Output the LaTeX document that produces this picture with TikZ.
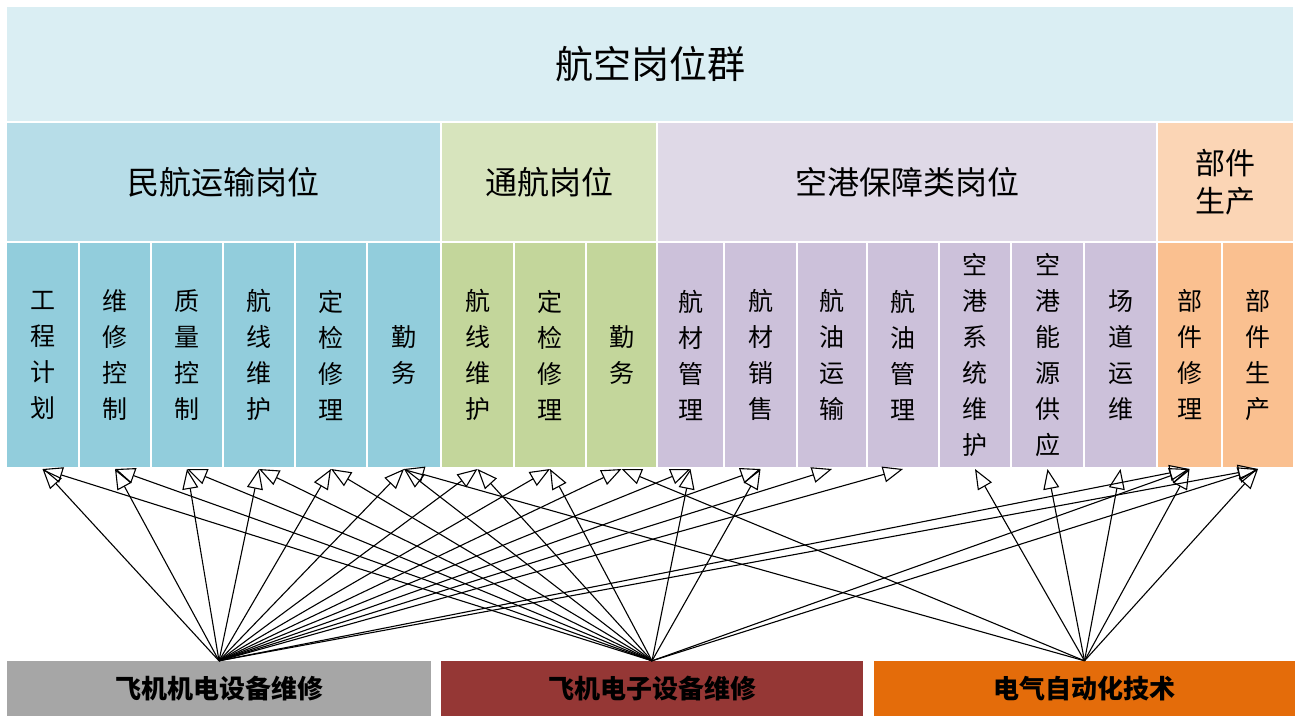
\documentclass[tikz,border=0pt]{standalone}
\usepackage{fontspec}
\setmainfont{Noto Sans CJK SC}
\usetikzlibrary{arrows.meta}
\definecolor{topc}{HTML}{DAEEF3}
\definecolor{civh}{HTML}{B7DDE8}
\definecolor{civc}{HTML}{92CDDC}
\definecolor{genh}{HTML}{D7E4BD}
\definecolor{genc}{HTML}{C3D69B}
\definecolor{apth}{HTML}{DFD9E7}
\definecolor{aptc}{HTML}{CCC1DA}
\definecolor{parh}{HTML}{FBD5B5}
\definecolor{parc}{HTML}{FAC090}
\definecolor{grayc}{HTML}{A6A6A6}
\definecolor{redc}{HTML}{953735}
\definecolor{orac}{HTML}{E46C0A}
\begin{document}
\begin{tikzpicture}[x=1pt,y=-1pt,
  box/.style={draw=white,line width=2pt,inner sep=0pt,align=center,text=black},
  cellbox/.style={box,minimum height=226pt,font=\fontsize{25}{36}\selectfont},
  headbox/.style={box,minimum height=120pt,font=\fontsize{32}{40}\selectfont},
  srcbox/.style={draw=none,inner sep=0pt,minimum height=55pt,align=center,text=black,font=\fontsize{26}{30}\selectfont\bfseries},
  edge/.style={draw=black,line width=1.1pt,-{Triangle[open,length=20pt,width=16pt,line width=1.1pt]}}
]
\useasboundingbox[fill=white] (0,0) rectangle (1295,716);
% top
\node[box,fill=topc,minimum width=1288pt,minimum height=116pt,font=\fontsize{38}{44}\selectfont] (top) at (650,64) {航空岗位群};
% headers
\node[headbox,fill=civh,minimum width=435pt] (h1) at (223.5,182) {民航运输岗位};
\node[headbox,fill=genh,minimum width=216pt] (h2) at (549,182) {通航岗位};
\node[headbox,fill=apth,minimum width=500pt] (h3) at (907,182) {空港保障类岗位};
\node[headbox,fill=parh,minimum width=137pt,font=\fontsize{30}{38}\selectfont] (h4) at (1225.5,182) {部件\\生产};
% cells
\node[cellbox,fill=civc,minimum width=73pt] (c1) at (42.5,355) {工\\程\\计\\划};
\node[cellbox,fill=civc,minimum width=72pt] (c2) at (115,355) {维\\修\\控\\制};
\node[cellbox,fill=civc,minimum width=72pt] (c3) at (187,355) {质\\量\\控\\制};
\node[cellbox,fill=civc,minimum width=72pt] (c4) at (259,355) {航\\线\\维\\护};
\node[cellbox,fill=civc,minimum width=72pt] (c5) at (331,355) {定\\检\\修\\理};
\node[cellbox,fill=civc,minimum width=74pt] (c6) at (404,355) {勤\\务};
\node[cellbox,fill=genc,minimum width=73pt] (t1) at (477.5,355) {航\\线\\维\\护};
\node[cellbox,fill=genc,minimum width=72pt] (t2) at (550,355) {定\\检\\修\\理};
\node[cellbox,fill=genc,minimum width=71pt] (t3) at (621.5,355) {勤\\务};
\node[cellbox,fill=aptc,minimum width=67pt] (k1) at (690.5,355) {航\\材\\管\\理};
\node[cellbox,fill=aptc,minimum width=73pt] (k2) at (760.5,355) {航\\材\\销\\售};
\node[cellbox,fill=aptc,minimum width=70pt] (k3) at (832,355) {航\\油\\运\\输};
\node[cellbox,fill=aptc,minimum width=72pt] (k4) at (903,355) {航\\油\\管\\理};
\node[cellbox,fill=aptc,minimum width=72pt] (k5) at (975,355) {空\\港\\系\\统\\维\\护};
\node[cellbox,fill=aptc,minimum width=73pt] (k6) at (1047.5,355) {空\\港\\能\\源\\供\\应};
\node[cellbox,fill=aptc,minimum width=73pt] (k7) at (1120.5,355) {场\\道\\运\\维};
\node[cellbox,fill=parc,minimum width=65pt] (p1) at (1189.5,355) {部\\件\\修\\理};
\node[cellbox,fill=parc,minimum width=72pt] (p2) at (1258,355) {部\\件\\生\\产};
% sources
\node[srcbox,fill=grayc,minimum width=424pt] (g) at (219,688.5) {飞机机电设备维修};
\node[srcbox,fill=redc,minimum width=422pt] (r) at (652,688.5) {飞机电子设备维修};
\node[srcbox,fill=orac,minimum width=421pt] (o) at (1084.5,688.5) {电气自动化技术};
% edges
\foreach \t in {c1,c2,c3,c4,c5,c6,t1,t2,t3,k1,k2,k3,k4,p1,p2}
  \draw[edge] (g.north) -- (\t.south);
\foreach \t in {c1,c2,c3,c4,c5,c6,t1,t2,k1,k2,p1,p2}
  \draw[edge] (r.north) -- (\t.south);
\foreach \t in {c6,t3,k5,k6,k7,p1,p2}
  \draw[edge] (o.north) -- (\t.south);
\end{tikzpicture}
\end{document}
